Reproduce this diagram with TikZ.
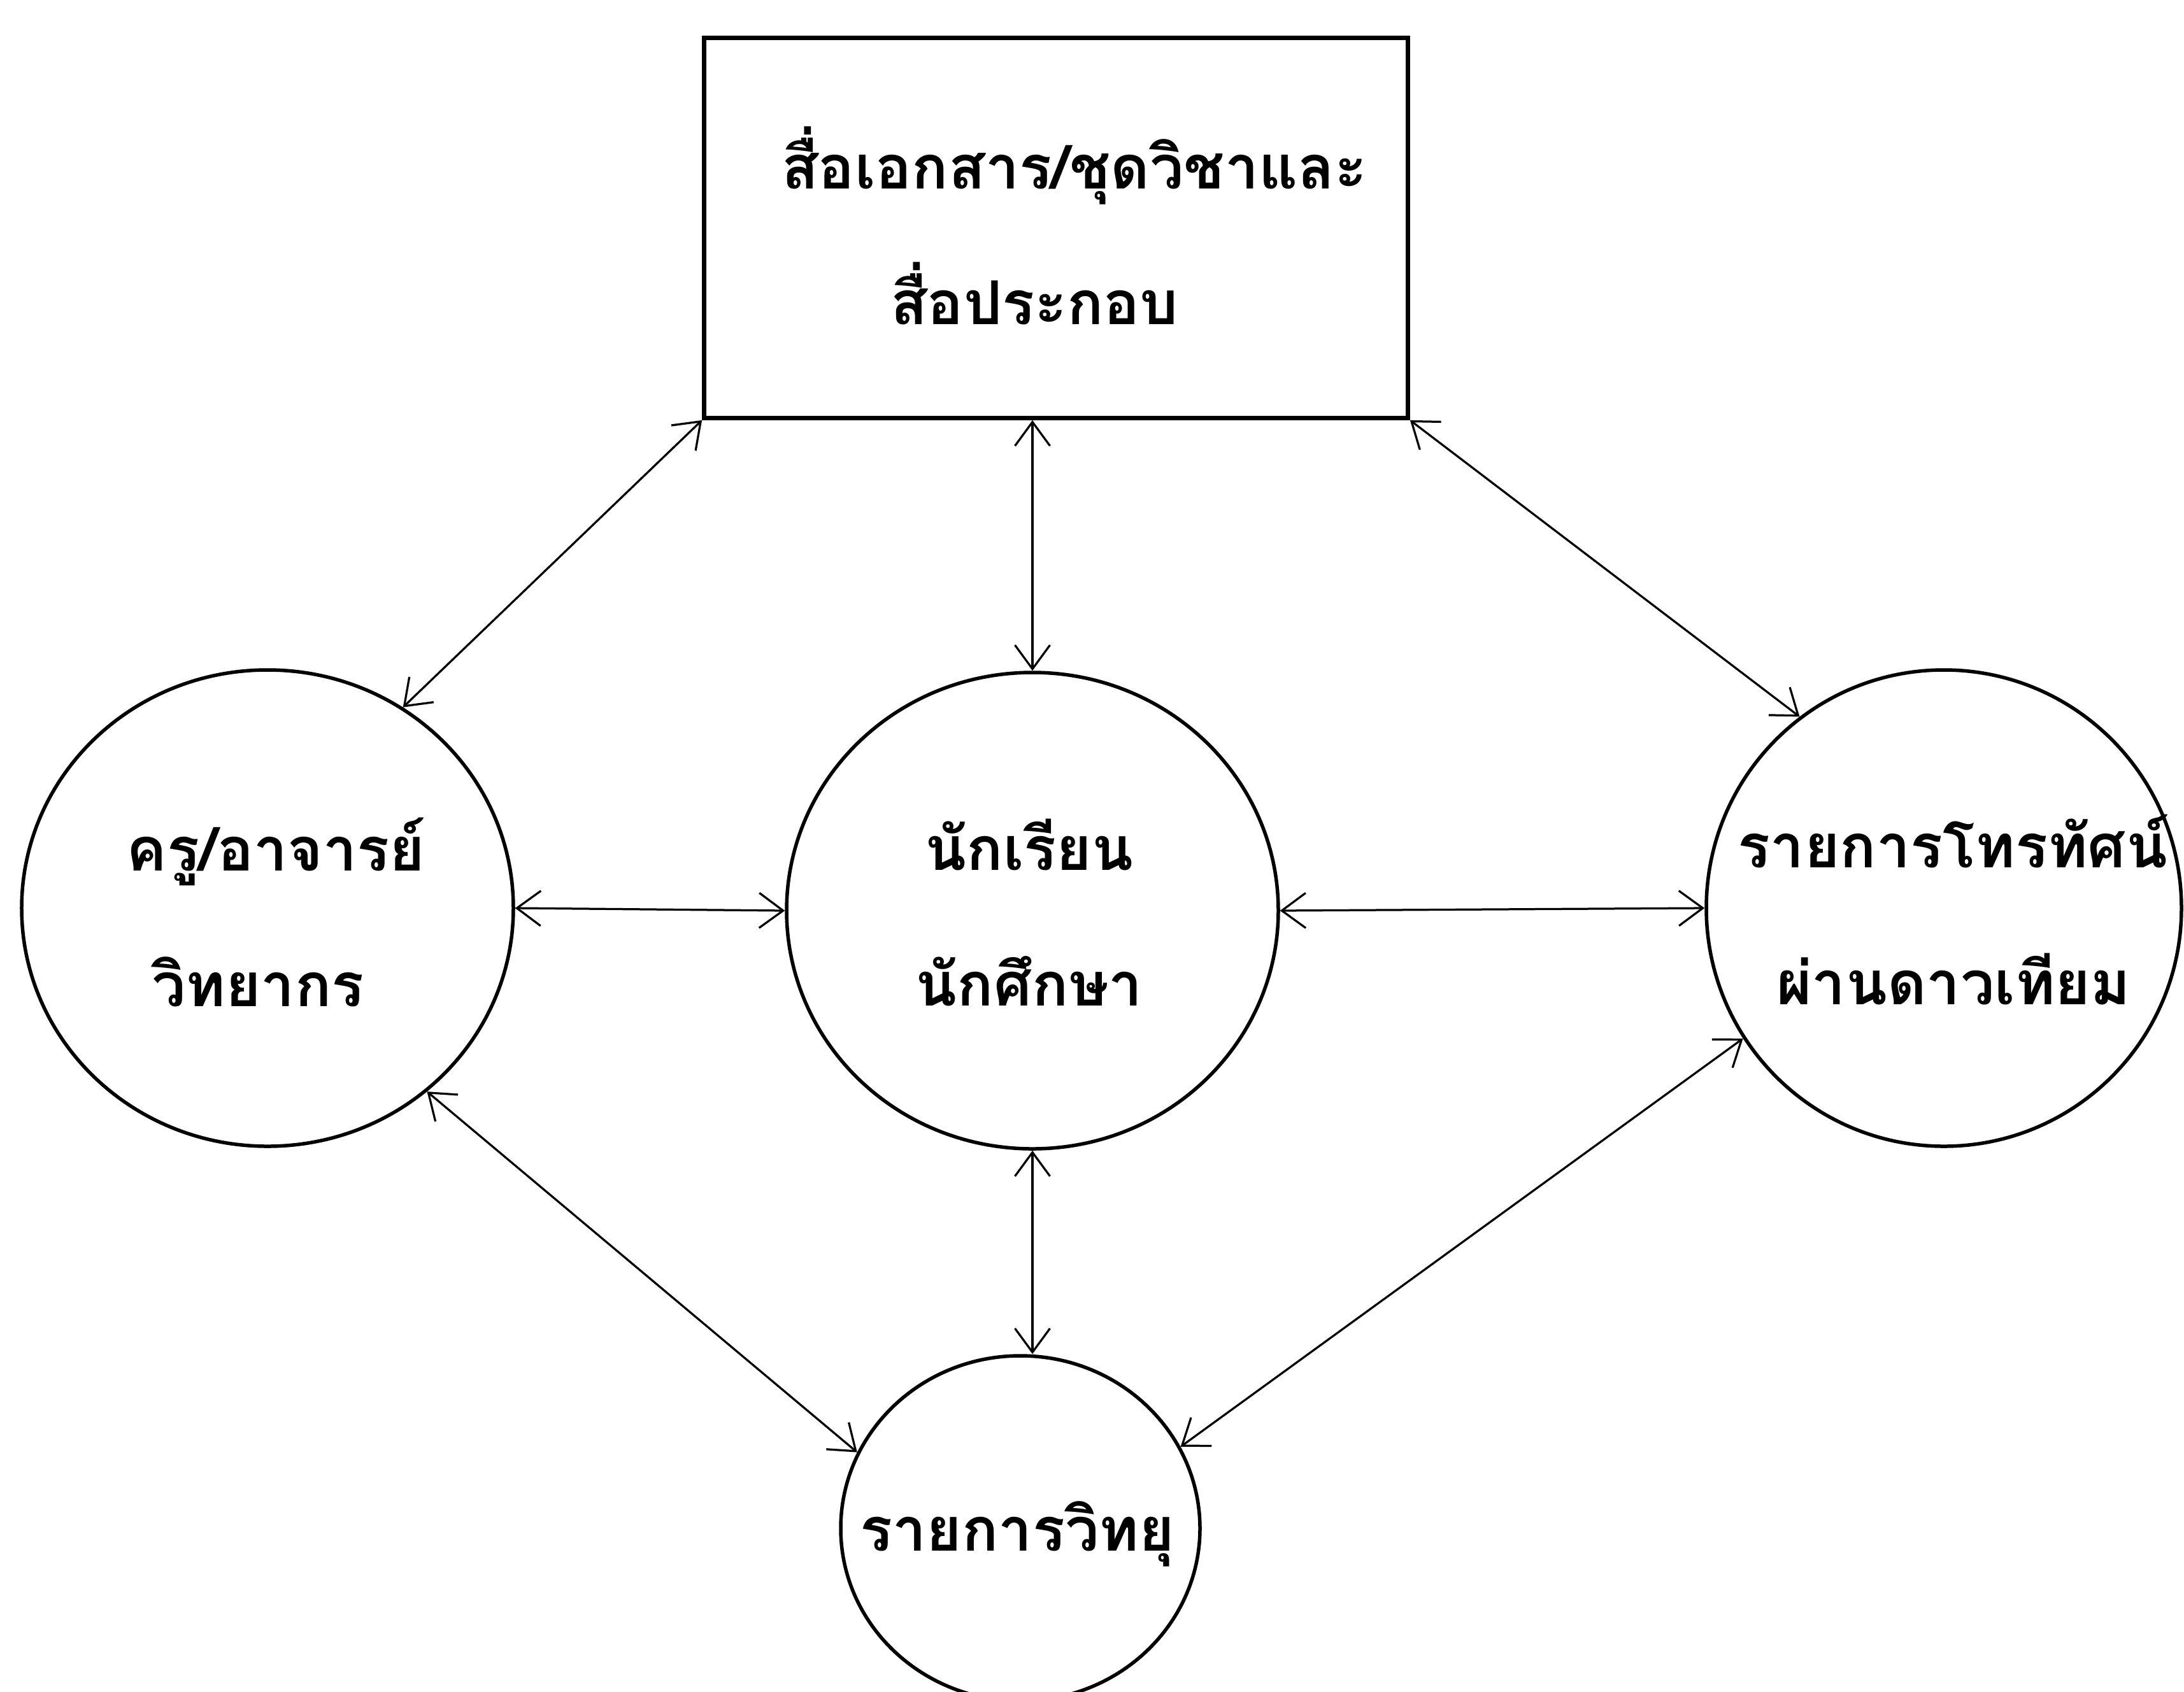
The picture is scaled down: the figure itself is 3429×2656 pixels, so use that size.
\documentclass[tikz,border=0pt]{standalone}
\usepackage{fontspec}
\newfontfamily\thaifont[Script=Thai]{Loma}
\usetikzlibrary{arrows.meta,shapes.geometric}
\begin{document}
\begin{tikzpicture}[x=0.2pt,y=-0.2pt,
  ring/.style={draw,ellipse,line width=1.1pt,inner sep=0pt},
  boxframe/.style={draw,rectangle,line width=1.35pt,inner sep=0pt},
  link/.style={line width=0.65pt,{Straight Barb[length=7.5pt,width=11pt]}-{Straight Barb[length=7.5pt,width=11pt]}},
  lbl/.style={anchor=base,inner sep=0pt,font=\thaifont\bfseries\fontsize{19pt}{19pt}\selectfont},
  lblw/.style={lbl,anchor=base west}]
\useasboundingbox (0,0) rectangle (3429,2656);
\node[boxframe,minimum width=221pt,minimum height=119.4pt] (box) at (1658,358) {};
\node[ring,minimum width=154.4pt,minimum height=149.6pt] (L) at (420,1426) {};
\node[ring,minimum width=154.4pt,minimum height=149.6pt] (C) at (1621,1430) {};
\node[ring,minimum width=149.2pt,minimum height=149.6pt] (R) at (3052,1426) {};
\node[ring,minimum width=112.8pt,minimum height=108.4pt] (B) at (1602,2400) {};
\node[lblw] (t1) at (1226,296) {สื่อเอกสาร/ชุดวิชาและ};
\node[lblw] (t2) at (1397,509) {สื่อประกอบ};
\node[lbl] (l1) at (433,1367) {ครู/อาจารย์};
\node[lbl] (l2) at (405,1580) {วิทยากร};
\node[lbl] (c1) at (1616,1366) {นักเรียน};
\node[lbl] (c2) at (1616,1579) {นักศึกษา};
\node[lbl] (r1) at (3066,1362) {รายการโทรทัศน์};
\node[lbl] (r2) at (3067,1577) {ผ่านดาวเทียม};
\node[lbl] (b1) at (1597,2435) {รายการวิทยุ};
\draw[link] (box.south west) -- (L.56);
\draw[link] (C.north |- box.south) -- (C.north);
\draw[link] (box.south east) -- (R.127);
\draw[link] (L.east) -- (C.west);
\draw[link] (C.east) -- (R.west);
\draw[link] (L.-49) -- (B.155);
\draw[link] (C.south) -- (C.south |- B.north);
\draw[link] (R.213) -- (B.27);
\end{tikzpicture}
\end{document}
